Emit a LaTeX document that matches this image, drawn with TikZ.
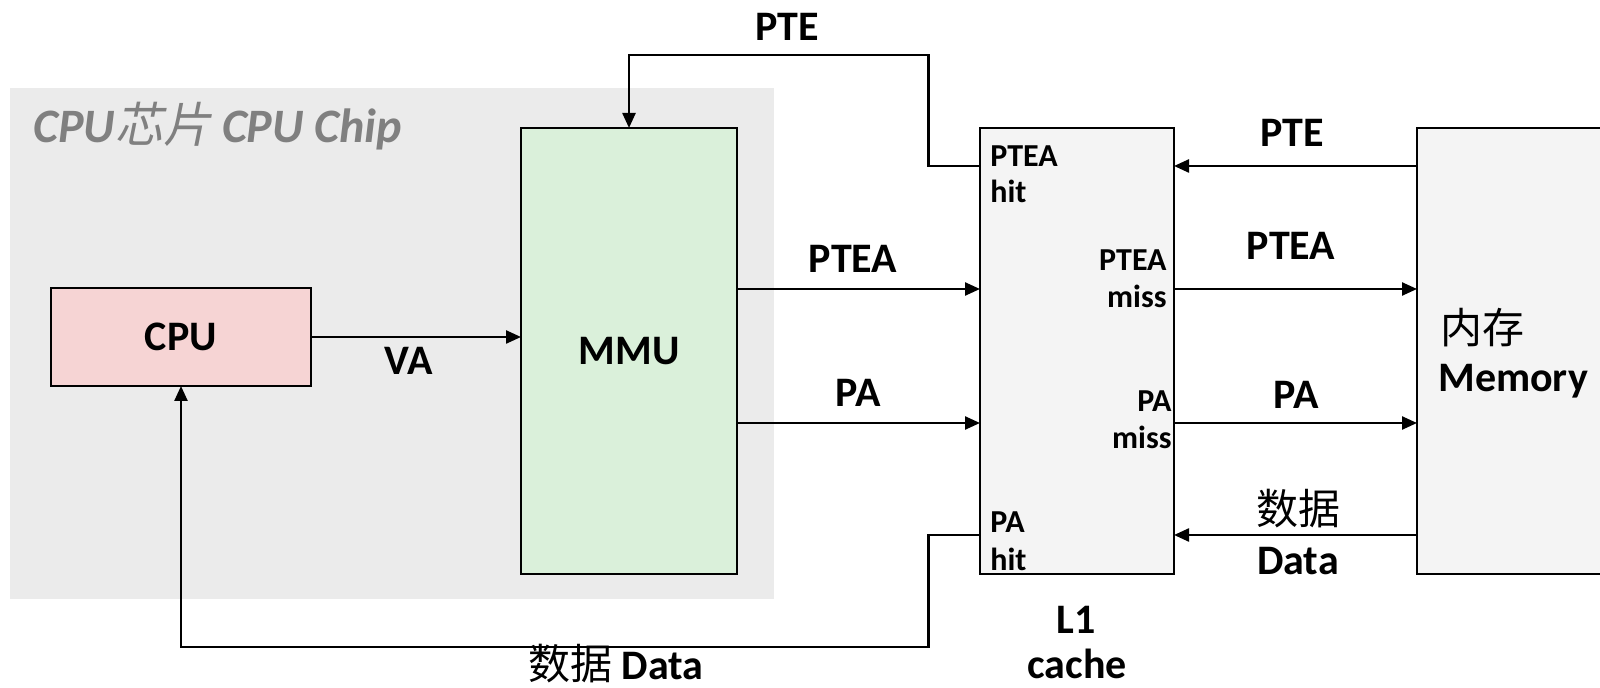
\documentclass[tikz,border=0pt]{standalone}
\usepackage{fontspec}
\setmainfont{Carlito}
\newfontfamily\cjk{Noto Sans CJK SC}
\newfontfamily\cjkit{Noto Sans CJK SC}[FakeSlant=0.2]
\usetikzlibrary{arrows.meta}
\definecolor{chipbg}{RGB}{235,235,235}
\definecolor{chipgray}{RGB}{128,128,128}
\definecolor{cpufill}{RGB}{246,212,212}
\definecolor{mmufill}{RGB}{218,240,218}
\definecolor{cachefill}{RGB}{244,244,244}
\begin{document}
\begin{tikzpicture}[x=0.5pt,y=-0.5pt,
  box/.style={draw=black, line width=1.1pt, inner sep=0pt, outer sep=0pt},
  arr/.style={line width=1.2pt, -{Triangle[length=7.5pt,width=6.5pt]}},
  big/.style={font=\fontsize{21}{25}\selectfont\bfseries, inner sep=0pt, anchor=base},
  small/.style={font=\fontsize{16}{19}\selectfont\bfseries, inner sep=0pt},
]
\useasboundingbox (0,0) rectangle (1600,688);
% chip region
\node[fill=chipbg, minimum width=382pt, minimum height=255.5pt, inner sep=0pt, outer sep=0pt] (chip) at (392,343.5) {};
\node[anchor=base west, inner sep=0pt, text=chipgray, font=\fontsize{24}{28}\selectfont\bfseries\itshape] (chiplabel) at (33,143) {CPU{\cjkit\mdseries\upshape 芯片} CPU Chip};
% boxes
\node[box, fill=cpufill, minimum width=130pt, minimum height=49pt, font=\fontsize{21}{25}\selectfont\bfseries] (cpu) at (181,337) {CPU};
\node[box, fill=mmufill, minimum width=108pt, minimum height=223pt, font=\fontsize{21}{25}\selectfont\bfseries] (mmu) at (629,351) {MMU};
\node[box, fill=cachefill, minimum width=97pt, minimum height=223pt] (l1) at (1077,351) {};
\node[box, fill=cachefill, minimum width=101.5pt, minimum height=223pt] (mem) at (1518.5,351) {};
% helper coordinates
\coordinate (yPTE) at (0,166);
\coordinate (yPTEA) at (0,289);
\coordinate (yPA) at (0,423);
\coordinate (yData) at (0,535);
\coordinate (bendA) at (928.6,55);
\coordinate (bendB) at (928.6,647);
% connectors
\draw[arr] (cpu.east) -- (mmu.west |- cpu.east);
\draw[arr] (mmu.east |- yPTEA) -- (l1.west |- yPTEA);
\draw[arr] (mmu.east |- yPA) -- (l1.west |- yPA);
\draw[arr] (l1.east |- yPTEA) -- (mem.west |- yPTEA);
\draw[arr] (l1.east |- yPA) -- (mem.west |- yPA);
\draw[arr] (mem.west |- yPTE) -- (l1.east |- yPTE);
\draw[arr] (mem.west |- yData) -- (l1.east |- yData);
\draw[arr] (l1.west |- yPTE) -| (bendA) -| (mmu.north);
\draw[arr] (l1.west |- yData) -| (bendB) -| (cpu.south);
% big labels
\node[big] (lpte1) at (787,41) {PTE};
\node[big] (lva) at (409,375) {VA};
\node[big] (lptea1) at (853,273) {PTEA};
\node[big] (lpa1) at (858,407) {PA};
\node[big] (lpte2) at (1292,147) {PTE};
\node[big] (lptea2) at (1291,260) {PTEA};
\node[big] (lpa2) at (1296,409) {PA};
\node[big] (ldata1) at (1298,525) {{\cjk\mdseries 数据}};
\node[big] (ldata2) at (1298,575) {Data};
\node[big] (ll1) at (1076,634) {L1};
\node[big] (lcache) at (1077,679) {cache};
\node[big] (ldata3) at (616,680) {{\cjk\mdseries 数据} Data};
\node[big, anchor=base west] (lmem1) at (1440,344) {{\cjk\mdseries 内存}};
\node[big, anchor=base west] (lmem2) at (1438,392) {Memory};
% small labels inside L1
\node[small, anchor=base west] (s1) at (990,167) {PTEA};
\node[small, anchor=base west] (s2) at (990,203) {hit};
\node[small, anchor=base east] (s3) at (1167,271) {PTEA};
\node[small, anchor=base east] (s4) at (1167,308) {miss};
\node[small, anchor=base east] (s5) at (1172,412) {PA};
\node[small, anchor=base east] (s6) at (1172,449) {miss};
\node[small, anchor=base west] (s7) at (990,533) {PA};
\node[small, anchor=base west] (s8) at (990,571) {hit};
\end{tikzpicture}
\end{document}
